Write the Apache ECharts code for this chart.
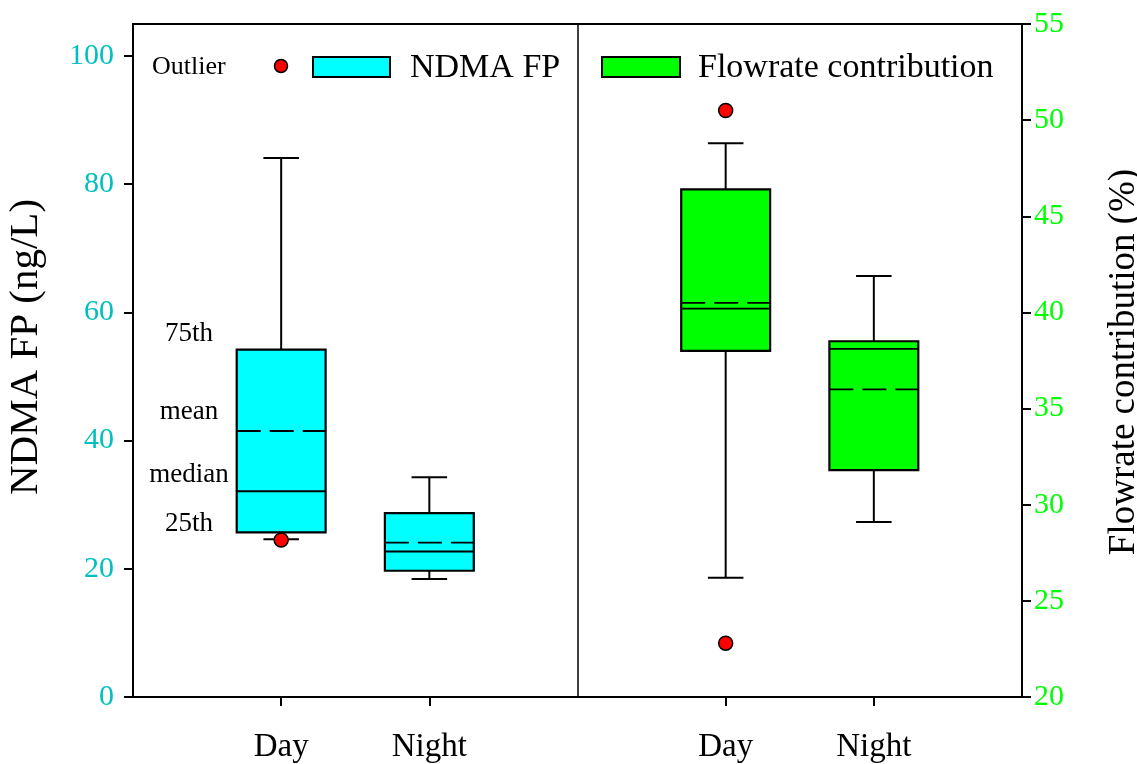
<!DOCTYPE html>
<html>
<head>
<meta charset="utf-8">
<script src="https://cdn.jsdelivr.net/npm/echarts@6/dist/echarts.min.js"></script>
<style>
html,body{margin:0;padding:0;background:#fff;}
#chart{width:1137px;height:764px;}
</style>
</head>
<body>
<div id="chart"></div>
<script>
// ---- data ----
const categories = ['Day', 'Night'];
// NDMA FP (ng/L)
const ndmaMin    = [24.6, 18.4];
const ndmaQ1     = [25.7, 19.7];
const ndmaMedian = [32.1, 22.7];
const ndmaMean   = [41.5, 24.1];
const ndmaQ3     = [54.2, 28.7];
const ndmaMax    = [84.1, 34.3];
const ndmaOutliers = [[0, 24.5]];          // [category index, value]
// Flowrate contribution (%)
const flowMin    = [26.2, 29.1];
const flowQ1     = [38.0, 31.8];
const flowMedian = [40.2, 38.1];
const flowMean   = [40.5, 36.0];
const flowQ3     = [46.4, 38.5];
const flowMax    = [48.8, 41.9];
const flowOutliers = [[0, 50.5], [0, 22.8]];
// axis ticks
const leftTicks  = [0, 20, 40, 60, 80, 100];
const rightTicks = [20, 25, 30, 35, 40, 45, 50, 55];
const annotations = ['75th', 'mean', 'median', '25th'];
const leftTitle = 'NDMA FP (ng/L)';
const rightTitle = 'Flowrate contribution (%)';

// ---- layout helpers ----
const FONT = "'Liberation Serif', 'Times New Roman', serif";
const LEFT_OFFSET = 1, RIGHT_OFFSET = 4, DIVIDER = 3;
const BOX_W = 0.6, CAP_W = 0.24;

function boxData(offset, mn, q1, md, mean, q3, mx) {
  return categories.map((c, i) => [i + offset, mn[i], q1[i], md[i], mean[i], q3[i], mx[i]]);
}
function outlierData(offset, list) {
  return list.map(o => [o[0] + offset, o[1]]);
}

function renderBox(fill) {
  return function (params, api) {
    const x = api.value(0);
    const mn = api.value(1), q1 = api.value(2), md = api.value(3),
          mean = api.value(4), q3 = api.value(5), mx = api.value(6);
    const bw = api.size([BOX_W, 0])[0];
    const cw = api.size([CAP_W, 0])[0];
    const p = v => api.coord([x, v]);
    const cx = p(mn)[0];
    const yMin = p(mn)[1], yQ1 = p(q1)[1], yMd = p(md)[1],
          yMean = p(mean)[1], yQ3 = p(q3)[1], yMax = p(mx)[1];
    const lineStyle = { stroke: '#000', lineWidth: 2 };
    return {
      type: 'group',
      children: [
        { type: 'line', shape: { x1: cx, y1: yQ3, x2: cx, y2: yMax }, style: lineStyle },
        { type: 'line', shape: { x1: cx - cw / 2, y1: yMax, x2: cx + cw / 2, y2: yMax }, style: lineStyle },
        { type: 'line', shape: { x1: cx, y1: yQ1, x2: cx, y2: yMin }, style: lineStyle },
        { type: 'line', shape: { x1: cx - cw / 2, y1: yMin, x2: cx + cw / 2, y2: yMin }, style: lineStyle },
        { type: 'rect', shape: { x: cx - bw / 2, y: yQ3, width: bw, height: yQ1 - yQ3 },
          style: { fill: fill, stroke: '#000', lineWidth: 2.2 } },
        { type: 'line', shape: { x1: cx - bw / 2, y1: yMd, x2: cx + bw / 2, y2: yMd },
          style: { stroke: '#000', lineWidth: 1.8 } },
        { type: 'line', shape: { x1: cx - bw / 2, y1: yMean, x2: cx + bw / 2, y2: yMean },
          style: { stroke: '#000', lineWidth: 1.8, lineDash: [24, 9] } }
      ]
    };
  };
}

const chart = echarts.init(document.getElementById('chart'));

const option = {
  backgroundColor: '#fff',
  animation: false,
  grid: {
    left: 133, right: 115, top: 24, bottom: 67,
    outerBoundsMode: 'none', containLabel: false,
    show: true, borderColor: '#000', borderWidth: 2, backgroundColor: 'transparent'
  },
  xAxis: {
    type: 'value', min: 0, max: 6,
    splitLine: { show: false },
    axisLine: { show: true, lineStyle: { color: '#000', width: 2 } },
    axisTick: { show: true, customValues: [LEFT_OFFSET, LEFT_OFFSET + 1, RIGHT_OFFSET, RIGHT_OFFSET + 1],
                length: 9, lineStyle: { color: '#000', width: 2 } },
    axisLabel: {
      customValues: [LEFT_OFFSET, LEFT_OFFSET + 1, RIGHT_OFFSET, RIGHT_OFFSET + 1],
      formatter: v => categories[v < DIVIDER ? v - LEFT_OFFSET : v - RIGHT_OFFSET],
      color: '#000', fontFamily: FONT, fontSize: 33, margin: 34
    }
  },
  yAxis: [
    {
      type: 'value', min: 0, max: 105, position: 'left',
      splitLine: { show: false },
      axisLine: { show: true, lineStyle: { color: '#000', width: 2 } },
      axisTick: { show: true, customValues: leftTicks, length: 9, lineStyle: { color: '#000', width: 2 } },
      axisLabel: { customValues: leftTicks, color: '#00BFBF', fontFamily: FONT, fontSize: 30, margin: 19 }
    },
    {
      type: 'value', min: 20, max: 55, position: 'right',
      splitLine: { show: false },
      axisLine: { show: true, lineStyle: { color: '#000', width: 2 } },
      axisTick: { show: true, customValues: rightTicks, length: 9, lineStyle: { color: '#000', width: 2 } },
      axisLabel: { customValues: rightTicks, color: '#00FF00', fontFamily: FONT, fontSize: 30, margin: 12 }
    }
  ],
  series: [
    {
      name: 'NDMA FP', type: 'custom', xAxisIndex: 0, yAxisIndex: 0,
      renderItem: renderBox('#00FFFF'),
      encode: { x: 0, y: [1, 2, 3, 4, 5, 6] },
      data: boxData(LEFT_OFFSET, ndmaMin, ndmaQ1, ndmaMedian, ndmaMean, ndmaQ3, ndmaMax),
      markLine: {
        silent: true, symbol: 'none', label: { show: false },
        lineStyle: { color: '#000', width: 1.5, type: 'solid' },
        data: [{ xAxis: DIVIDER }]
      }
    },
    {
      name: 'Flowrate contribution', type: 'custom', xAxisIndex: 0, yAxisIndex: 1,
      renderItem: renderBox('#00FF00'),
      encode: { x: 0, y: [1, 2, 3, 4, 5, 6] },
      data: boxData(RIGHT_OFFSET, flowMin, flowQ1, flowMedian, flowMean, flowQ3, flowMax)
    },
    {
      name: 'NDMA outliers', type: 'scatter', xAxisIndex: 0, yAxisIndex: 0, z: 5,
      symbol: 'circle', symbolSize: 14,
      itemStyle: { color: '#FF0000', borderColor: '#000', borderWidth: 1.5, opacity: 1 },
      data: outlierData(LEFT_OFFSET, ndmaOutliers)
    },
    {
      name: 'Flow outliers', type: 'scatter', xAxisIndex: 0, yAxisIndex: 1, z: 5,
      symbol: 'circle', symbolSize: 14,
      itemStyle: { color: '#FF0000', borderColor: '#000', borderWidth: 1.5, opacity: 1 },
      data: outlierData(RIGHT_OFFSET, flowOutliers)
    }
  ],
  graphic: [
    { type: 'text', x: 26, y: 347, rotation: Math.PI / 2,
      style: { text: leftTitle, fontFamily: FONT, fontSize: 41, fill: '#000', align: 'center', verticalAlign: 'middle' } },
    { type: 'text', x: 1124, y: 362, rotation: Math.PI / 2,
      style: { text: rightTitle, fontFamily: FONT, fontSize: 37, fill: '#000', align: 'center', verticalAlign: 'middle' } },
    { type: 'text', left: 152, top: 54, style: { text: 'Outlier', fontFamily: FONT, fontSize: 26, fill: '#000' } },
    { type: 'circle', shape: { cx: 281, cy: 66, r: 6.5 }, style: { fill: '#FF0000', stroke: '#000', lineWidth: 1.5 } },
    { type: 'rect', shape: { x: 313, y: 57, width: 77, height: 20 }, style: { fill: '#00FFFF', stroke: '#000', lineWidth: 2 } },
    { type: 'text', left: 410, top: 51, style: { text: 'NDMA FP', fontFamily: FONT, fontSize: 34, fill: '#000' } },
    { type: 'rect', shape: { x: 602, y: 57, width: 78, height: 20 }, style: { fill: '#00FF00', stroke: '#000', lineWidth: 2 } },
    { type: 'text', left: 698, top: 51, style: { text: 'Flowrate contribution', fontFamily: FONT, fontSize: 34, fill: '#000' } },
    { type: 'text', x: 189, y: 334, style: { text: annotations[0], fontFamily: FONT, fontSize: 27, fill: '#000', align: 'center', verticalAlign: 'middle' } },
    { type: 'text', x: 189, y: 412, style: { text: annotations[1], fontFamily: FONT, fontSize: 27, fill: '#000', align: 'center', verticalAlign: 'middle' } },
    { type: 'text', x: 189, y: 475, style: { text: annotations[2], fontFamily: FONT, fontSize: 27, fill: '#000', align: 'center', verticalAlign: 'middle' } },
    { type: 'text', x: 189, y: 524, style: { text: annotations[3], fontFamily: FONT, fontSize: 27, fill: '#000', align: 'center', verticalAlign: 'middle' } }
  ]
};
chart.setOption(option);
</script>
</body>
</html>
